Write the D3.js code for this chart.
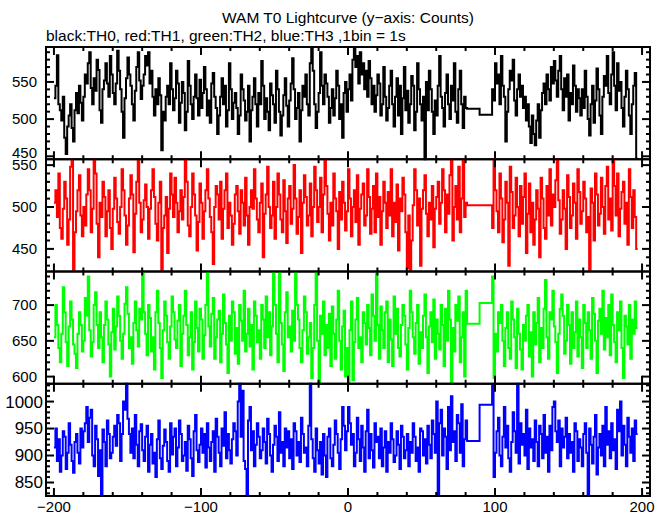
<!DOCTYPE html>
<html><head><meta charset="utf-8">
<script src="https://cdn.jsdelivr.net/npm/d3@7"></script>
<style>body{margin:0;background:#fff}svg{display:block}text{font-family:"Liberation Sans",Arial,Helvetica,sans-serif;fill:#000}</style>
</head><body><div id="chart"></div>
<script>
// ---- data (counts per 1 s bin) ----
const seg1Start = -200;          // first bin of segment 1 (281 bins)
const gapEdges = [81, 89.5, 98];  // two wide bins during data gap
const seg2Start = 98;             // first bin of segment 2 (99 bins)
const th0Seg1 = [528,545,586,520,512,498,530,475,453,490,505,520,488,470,512,535,508,545,522,498,
530,560,548,575,590,542,520,555,538,580,566,512,495,540,552,575,548,530,585,560,
535,520,548,592,565,540,510,475,528,555,583,560,545,520,498,538,570,590,552,527,
545,560,585,572,590,548,565,530,505,540,520,555,532,458,510,498,530,545,520,575,
540,512,528,565,548,495,522,550,535,485,510,578,545,520,500,530,560,528,505,553,
515,535,570,540,505,525,495,548,562,530,515,480,505,530,555,520,545,490,512,575,
540,500,522,535,515,480,505,560,540,525,498,510,545,470,512,530,555,520,490,535,
520,578,545,500,528,510,485,548,532,520,495,565,540,510,478,505,532,555,518,490,
525,548,582,540,500,515,535,470,512,545,530,560,520,505,575,597,565,520,488,510,
535,590,545,520,560,548,530,495,515,540,505,528,565,545,500,520,475,535,550,510,
540,560,525,580,597,570,585,548,590,560,575,540,565,530,578,555,520,545,510,532,
560,548,505,520,570,530,498,515,545,565,520,490,530,555,505,545,480,528,570,512,
538,495,520,558,545,485,510,575,540,520,498,530,446,550,512,565,540,510,480,525,
505,545,585,530,515,490,535,560,520,500,545,525,575,510,495,540,565,520,488,530,515];
const th0Gap = [514, 506];
const th0Seg2 = [540,525,575,548,560,520,585,545,530,470,510,540,565,552,580,525,505,540,560,530,
545,515,530,498,520,490,468,505,480,465,498,520,475,512,535,548,520,560,540,525,
570,548,578,552,530,565,585,540,512,555,530,560,498,535,520,572,545,510,540,528,
505,540,515,565,530,500,478,520,545,495,525,568,540,505,480,530,558,545,585,535,
520,560,590,545,512,575,538,550,515,490,530,565,540,505,480,520,545,562,447];

const th1Seg1 = [505,520,488,540,475,462,498,530,510,455,485,548,557,425,470,495,520,538,490,465,
500,478,515,545,520,470,498,557,540,480,440,505,488,530,512,465,495,520,475,450,
498,535,510,482,468,500,545,520,490,455,478,510,538,515,446,492,530,556,505,470,
485,508,527,500,462,498,520,545,512,480,460,505,530,425,475,490,512,445,498,540,
515,488,535,505,470,495,520,485,512,557,530,478,465,500,540,515,490,448,482,528,
505,462,495,520,545,510,488,470,432,500,525,515,485,530,462,498,520,540,475,505,
490,455,480,515,525,495,468,520,505,478,535,490,455,500,520,498,545,510,485,470,
505,528,440,492,515,548,500,475,490,530,462,500,540,515,485,470,532,495,457,510,
525,480,498,550,510,468,488,520,445,505,538,512,478,490,528,465,500,548,520,482,
500,535,470,515,557,525,492,460,505,478,540,510,495,450,518,485,530,505,472,495,
545,510,465,500,520,482,538,455,498,515,528,478,490,545,512,468,498,525,470,540,
488,512,455,495,530,505,475,518,490,545,465,505,482,527,448,510,495,535,515,470,
427,490,425,460,502,545,520,478,510,430,498,520,538,492,465,505,485,525,452,498,
512,530,480,505,545,520,470,515,492,538,557,460,500,525,485,548,470,510,557,488,505];
const th1Gap = [502, 502];
const th1Seg2 = [475,557,520,495,470,540,510,458,485,530,505,430,548,518,475,490,535,500,465,525,
480,512,540,445,492,528,470,505,455,485,520,498,440,535,510,475,462,525,490,545,
478,515,500,532,557,508,468,485,520,498,450,538,512,475,490,528,505,462,545,518,
480,495,530,510,470,488,425,522,505,460,540,515,478,492,535,500,468,525,548,485,
510,472,557,525,490,540,465,498,518,530,480,505,455,545,512,475,520,488,450];

const th2Seg1 = [655,700,672,640,620,660,725,690,648,615,670,705,680,645,632,612,660,690,672,635,
650,710,685,740,665,628,648,700,718,672,640,690,655,620,672,705,680,645,600,662,
695,638,670,712,685,650,625,660,702,725,688,640,655,618,675,705,665,642,695,680,
745,690,660,630,700,682,635,655,610,690,720,675,640,598,665,705,685,648,625,670,
712,690,652,640,678,700,615,660,685,720,672,630,655,690,610,648,705,668,635,695,
680,625,658,700,745,670,642,688,710,625,655,680,692,620,660,715,675,645,605,685,
650,705,690,632,668,618,700,678,650,720,635,660,695,642,672,610,705,685,648,665,
625,700,680,640,712,655,690,630,670,745,700,660,620,745,675,645,608,690,718,655,
670,635,692,650,745,700,680,640,620,665,712,690,632,655,675,598,640,700,745,650,
590,685,660,705,630,672,640,688,615,698,660,625,680,720,650,610,670,692,600,640,
590,665,705,595,648,680,710,640,655,620,690,675,645,700,668,630,715,685,650,745,
672,625,698,665,640,690,705,620,680,652,615,712,660,695,640,628,672,700,685,645,
610,668,720,690,655,632,675,700,618,662,640,685,715,655,605,670,690,648,708,625,
680,660,638,700,672,615,695,650,720,680,592,668,635,700,678,712,620,655,690,600,720];
const th2Gap = [674, 703];
const th2Seg2 = [740,598,660,635,690,675,700,650,615,668,690,640,625,705,680,655,612,695,660,638,
610,672,650,685,700,628,662,600,690,645,675,710,620,668,640,695,735,655,625,690,
680,720,670,648,605,660,695,715,685,632,650,700,672,618,690,640,662,705,628,680,
655,612,700,675,640,690,665,625,710,688,650,605,678,695,660,720,638,682,655,700,
630,715,672,648,620,690,665,705,640,598,685,670,645,700,625,680,660,705,668];

const th3Seg1 = [915,950,890,930,870,900,945,935,875,905,960,920,890,868,925,940,905,885,950,915,
945,960,990,925,970,985,900,880,955,930,862,910,825,948,925,880,965,940,895,905,
935,955,918,975,960,890,940,1000,985,1033,968,940,905,950,895,975,920,880,945,958,
910,890,935,955,870,920,940,885,905,860,930,965,895,875,918,948,925,890,870,960,
902,935,950,880,915,965,940,890,900,925,872,955,930,895,862,945,975,910,888,920,
950,905,940,878,960,915,890,925,945,870,968,935,905,880,950,918,980,895,940,910,
885,930,960,945,900,1000,1033,935,1020,890,875,825,965,990,910,945,880,920,960,935,
895,910,950,925,885,968,940,900,870,920,955,935,890,980,905,925,880,950,915,945,
895,930,875,960,945,900,925,888,970,940,905,915,880,955,1033,930,895,870,950,910,
885,925,865,940,900,860,935,950,895,880,920,965,940,905,875,930,990,955,910,945,
990,960,920,940,880,905,970,930,890,955,915,870,945,985,895,940,910,878,960,925,
935,895,950,880,915,945,870,925,905,960,930,888,900,945,920,875,955,935,895,910,
940,880,925,905,960,935,890,915,870,950,945,900,930,885,955,920,895,965,940,905,
1000,825,960,985,900,950,935,875,990,910,1010,925,945,890,975,960,905,995,880,930,965];
const th3Gap = [927, 994];
const th3Seg2 = [1030,860,905,945,970,900,880,935,990,915,955,895,870,925,980,945,905,1033,885,960,
920,940,900,985,875,950,915,930,890,965,925,880,955,940,895,975,905,935,870,955,
910,990,1000,945,925,965,880,950,915,935,970,895,940,905,925,870,960,945,890,930,
915,880,940,960,905,825,950,920,885,935,975,865,915,940,900,955,880,990,920,945,
895,960,910,930,875,985,945,1000,900,955,920,880,970,935,905,950,890,965,940];

// ---- axis / panel definitions ----
const panelNames = ["TH0","TH1","TH2","TH3"];
const panelColors = ["#000000","#ff0000","#00ff00","#0000ff"];
const yDomains = [[446,597],[423,557],[590,747],[825,1033]];
const yLabelTicks = [[450,500,550],[450,500,550],[600,650,700],[850,900,950,1000]];
const xDomain = [-205.4, 205.4];
const xLabelTicks = [-200,-100,0,100,200];
const xMinorStep = 20, yMinorStep = 10;
const titleText = "WAM T0 Lightcurve (y\u2212axis: Counts)";
const subtitleText = "black:TH0, red:TH1, green:TH2, blue:TH3 ,1bin = 1s";

const series = [[th0Seg1,th0Gap,th0Seg2],[th1Seg1,th1Gap,th1Seg2],[th2Seg1,th2Gap,th2Seg2],[th3Seg1,th3Gap,th3Seg2]];

// ---- drawing ----
(function draw() {
const W = 669, H = 515;
const pLeft = 46, pRight = 650, pTop = 47, pBottom = 496;
const ph = (pBottom - pTop) / 4;
const svg = d3.select("#chart").append("svg").attr("width", W).attr("height", H);

const x = d3.scaleLinear().domain(xDomain).range([pLeft, pRight]);

svg.append("text").attr("x", 348).attr("y", 23).attr("text-anchor","middle")
  .style("font-size","15.5px").text(titleText);
svg.append("text").attr("x", 46).attr("y", 41)
  .style("font-size","15.5px").text(subtitleText);

function stepPoints(s) {
  const [a, g, b] = s, pts = [];
  a.forEach((v,i) => pts.push([seg1Start + i, v]));
  g.forEach((v,i) => pts.push([gapEdges[i], v]));
  b.forEach((v,i) => pts.push([seg2Start + i, v]));
  pts.push([seg2Start + b.length, b[b.length-1]]);
  return pts;
}

const xMinor = d3.range(-200, 201, xMinorStep);

series.forEach((s, k) => {
  const y0 = pTop + k * ph, y1 = y0 + ph;
  const y = d3.scaleLinear().domain(yDomains[k]).range([y1, y0]);
  const g = svg.append("g");
  const line = d3.line().x(d => x(d[0])).y(d => y(d[1])).curve(d3.curveStepAfter);
  g.append("path").datum(stepPoints(s)).attr("d", line)
    .attr("fill","none").attr("stroke", panelColors[k]).attr("stroke-width", 2);

  g.append("rect").attr("x", pLeft).attr("y", y0).attr("width", pRight-pLeft).attr("height", ph)
    .attr("fill","none").attr("stroke","#000").attr("stroke-width",2);

  const tx = g.append("g").attr("stroke","#000").attr("stroke-width",2);
  xMinor.forEach(t => {
    const len = (t % 100 === 0) ? 8 : 4;
    tx.append("line").attr("x1",x(t)).attr("x2",x(t)).attr("y1",y1).attr("y2",y1-len);
    tx.append("line").attr("x1",x(t)).attr("x2",x(t)).attr("y1",y0).attr("y2",y0+len);
  });
  const [d0, d1] = yDomains[k];
  d3.range(Math.ceil(d0/yMinorStep)*yMinorStep, d1+0.001, yMinorStep).forEach(t => {
    const len = (t % 50 === 0) ? 8 : 4;
    tx.append("line").attr("x1",pLeft).attr("x2",pLeft+len).attr("y1",y(t)).attr("y2",y(t));
    tx.append("line").attr("x1",pRight).attr("x2",pRight-len).attr("y1",y(t)).attr("y2",y(t));
  });
  const big = k === 3;
  yLabelTicks[k].forEach((t, i) => {
    const nudge = (k === 0 && i === 0) ? -3.5 : 0;
    g.append("text").attr("x", big ? 43 : 37).attr("y", y(t) + nudge).attr("dy","0.35em")
      .attr("text-anchor","end").style("font-size", big ? "17px" : "15px").text(t);
  });
  if (k === 3) {
    xLabelTicks.forEach(t => {
      g.append("text").attr("x", x(t)).attr("y", 512).attr("text-anchor","middle")
        .style("font-size","15px").text(t < 0 ? "\u2212" + Math.abs(t) : t);
    });
  }
});
})();
</script></body></html>
